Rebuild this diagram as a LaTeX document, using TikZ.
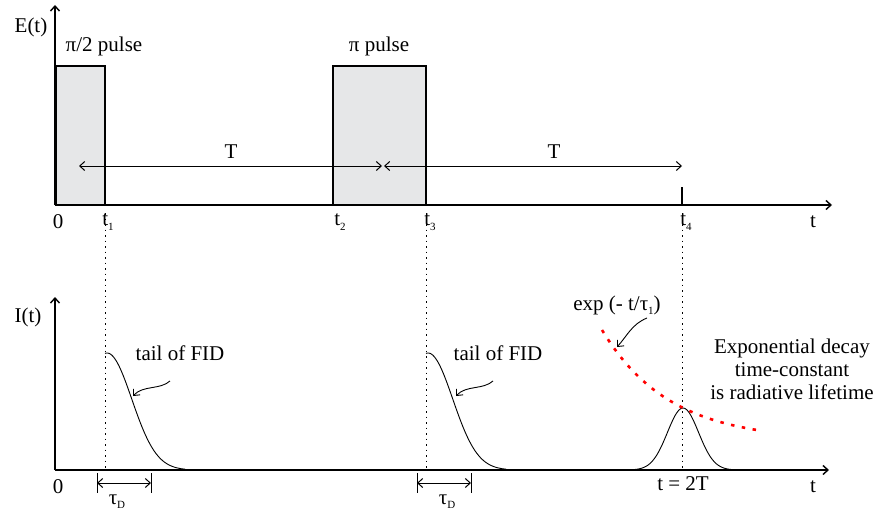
\documentclass[tikz,border=0pt]{standalone}
\usepackage{fontspec}
\setmainfont{Liberation Serif}
\usetikzlibrary{arrows.meta}
\definecolor{pulsegray}{RGB}{230,231,232}
\tikzset{>={Straight Barb[length=5pt,width=9pt]}}
\tikzset{
  axis/.style={line width=1.4pt,->},
  pulse/.style={draw,line width=1.4pt,fill=pulsegray},
  guide/.style={line width=0.9pt,dash pattern=on 1.5pt off 4pt},
  span/.style={line width=1pt,<->},
  bar/.style={line width=1pt},
  signal/.style={line width=0.9pt},
  pointer/.style={line width=0.9pt,->},
  decaydots/.style={red,line width=2.6pt,dash pattern=on 3.5pt off 7.5pt},
  lbl/.style={inner sep=0pt,font=\rmfamily\fontsize{21}{23}\selectfont},
}
\newcommand{\lo}[1]{\raisebox{-0.45ex}{\fontsize{11}{12}\selectfont #1}}
\begin{document}
\begin{tikzpicture}[x=1pt,y=-1pt]
  \useasboundingbox (0,0) rectangle (881,511);

  % upper panel: E(t)
  \draw[pulse] (56,66) rectangle (105,205);
  \draw[pulse] (333,66) rectangle (426,205);
  \draw[axis] (55,205) -- (55,5);
  \draw[axis] (55,205) -- (832,205);
  \draw[line width=1.4pt] (682,187) -- (682,205);

  \node[lbl] (Et) at (31,27) {E(t)};
  \node[lbl] (half) at (104,46) {π/2 pulse};
  \node[lbl] (full) at (379,46) {π pulse};

  \coordinate (Ta) at (79,166);
  \coordinate (Tb) at (382,166);
  \coordinate (Tc) at (384,166);
  \coordinate (Td) at (682,166);
  \draw[span] (Ta) -- (Tb);
  \draw[span] (Tc) -- (Td);
  \node[lbl] (T1) at (231,152) {T};
  \node[lbl] (T2) at (554,152) {T};

  \node[lbl] (zeroE) at (58,222) {0};
  \node[lbl] (t1) at (108,222) {t\lo{1}};
  \node[lbl] (t2) at (340,222) {t\lo{2}};
  \node[lbl] (t3) at (430,222) {t\lo{3}};
  \node[lbl] (t4) at (686,222) {t\lo{4}};
  \node[lbl] (tE) at (813,222) {t};

  % guides down to the lower panel
  \draw[guide] (105,213) -- (105,470);
  \draw[guide] (426,213) -- (426,470);
  \draw[guide] (682,213) -- (682,470);

  % lower panel: I(t)
  \draw[axis] (55,470) -- (55,297);
  \draw[axis] (55,470) -- (829,470);
  \node[lbl] (It) at (28,317) {I(t)};
  \node[lbl] (zeroI) at (58,487) {0};
  \node[lbl] (tI) at (813,487) {t};
  \node[lbl] (echo) at (683,484) {t = 2T};

  \draw[signal] plot[domain=105:185,samples=60]
    (\x,{470-117*exp(-((\x-107)/35)*((\x-107)/35))});
  \draw[signal] plot[domain=426:506,samples=60]
    (\x,{470-117*exp(-((\x-428)/35)*((\x-428)/35))});
  \draw[signal] plot[domain=630:736,samples=60]
    (\x,{470-62*exp(-((\x-683)/22)*((\x-683)/22))});
  \draw[decaydots] plot[domain=602:758,samples=40]
    (\x,{441-111*exp(-(\x-602)/67)});

  \node[lbl] (fid1) at (180,353) {tail of FID};
  \node[lbl] (fid2) at (498,353) {tail of FID};
  \coordinate (f1a) at (170,381);
  \coordinate (f1b) at (133,396);
  \coordinate (f2a) at (493,381);
  \coordinate (f2b) at (456,396);
  \draw[pointer] (f1a) .. controls (160,390) and (143,385) .. (f1b);
  \draw[pointer] (f2a) .. controls (483,390) and (466,385) .. (f2b);

  \node[lbl] (expl) at (617,305) {exp (- t/τ\lo{1})};
  \coordinate (ea) at (647,318);
  \coordinate (eb) at (617,347);
  \draw[pointer] (ea) .. controls (632,324) and (627,336) .. (eb);

  \node[lbl,align=center] (note) at (792,369)
    {Exponential decay\\time-constant\\is radiative lifetime};

  % tau_D spans
  \coordinate (d1a) at (97,483);
  \coordinate (d1b) at (151,483);
  \coordinate (d2a) at (417,483);
  \coordinate (d2b) at (471,483);
  \draw[span] (d1a) -- (d1b);
  \draw[span] (d2a) -- (d2b);
  \draw[bar] (97,473) -- (97,493);
  \draw[bar] (151,473) -- (151,493);
  \draw[bar] (417,473) -- (417,493);
  \draw[bar] (471,473) -- (471,493);
  \node[lbl] (tau1) at (117,502) {τ\lo{D}};
  \node[lbl] (tau2) at (447,502) {τ\lo{D}};
\end{tikzpicture}
\end{document}
